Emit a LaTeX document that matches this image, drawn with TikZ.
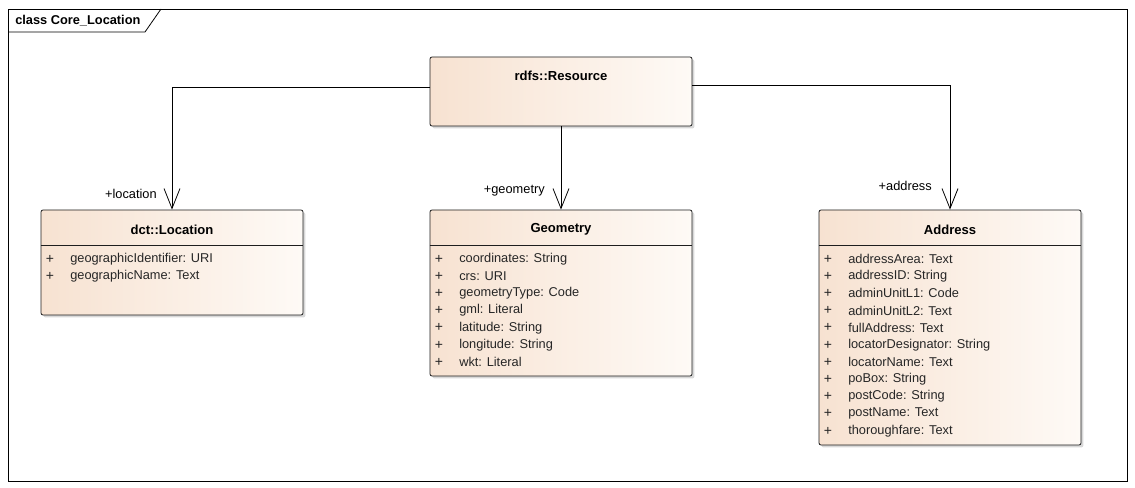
\documentclass[tikz,border=0pt]{standalone}
\usepackage{fontspec}
\setmainfont{Liberation Sans}
\usetikzlibrary{arrows.meta,fit,shadows,calc}
\definecolor{peach}{RGB}{247,226,209}
\definecolor{peachlight}{RGB}{254,250,246}
\definecolor{gridline}{RGB}{30,30,30}
\tikzset{
  classbox/.style={draw=gridline, line width=0.6pt, rounded corners=1.5pt, inner sep=0pt,
    left color=peach, right color=peachlight, shading angle=90,
    drop shadow={shadow xshift=1.8pt, shadow yshift=-1.8pt, opacity=0.25, fill=black!60}},
  classtitle/.style={font=\fontsize{9.8pt}{11pt}\selectfont\bfseries, inner sep=0pt},
  attr/.style={font=\fontsize{9.6pt}{11pt}\selectfont, anchor=west, inner sep=0pt, text=black!85},
  vis/.style={font=\fontsize{10.5pt}{11pt}\selectfont, inner sep=0pt, text=black!85},
  rolelabel/.style={font=\fontsize{9.6pt}{11pt}\selectfont, anchor=east, inner sep=0pt},
  assoc/.style={draw=black, line width=0.6pt, -{Straight Barb[length=15pt,width=12pt,line width=0.6pt]}},
  divider/.style={draw=gridline, line width=0.6pt},
}
\begin{document}
\begin{tikzpicture}[x=0.75pt,y=-0.75pt]
\useasboundingbox[fill=white] (0,0) rectangle (1135,488);
% frame
\node[draw=black, line width=0.6pt, inner sep=0pt, fit={(8,9) (1127,481)}] (frame) {};
\coordinate (tabA) at (8,32);
\coordinate (tabB) at (145,32);
\coordinate (tabC) at (161,9);
\draw[line width=0.6pt] (tabA) -- (tabB) -- (tabC);
\node[font=\fontsize{9.6pt}{11pt}\selectfont\bfseries, anchor=west, inner sep=0pt] (frametitle) at (15,20.5) {class Core\_Location};

% boxes
\node[classbox, fit={(430,57) (692,126)}] (res) {};
\node[classbox, fit={(41,210) (303,315)}] (loc) {};
\node[classbox, fit={(430,210) (692,376)}] (geo) {};
\node[classbox, fit={(819,210) (1081,445)}] (adr) {};

% titles
\node[classtitle] (rest) at (561,76) {rdfs::Resource};
\node[classtitle] (loct) at (172,229.5) {dct::Location};
\node[classtitle] (geot) at (561,229.5) {Geometry};
\node[classtitle] (adrt) at (950,229.5) {Address};

% dividers
\draw[divider] (loc.west |- 0,245) -- (loc.east |- 0,245);
\draw[divider] (geo.west |- 0,245) -- (geo.east |- 0,245);
\draw[divider] (adr.west |- 0,245) -- (adr.east |- 0,245);

% attributes: Location
\foreach \t [count=\i] in {geographicIdentifier: URI, geographicName: Text}{
  \node[vis] (locv\i) at (50,{259+17.2*(\i-1)}) {+};
  \node[attr] (loca\i) at (70,{259+17.2*(\i-1)}) {\t};
}
% attributes: Geometry
\foreach \t [count=\i] in {coordinates: String, crs: URI, geometryType: Code, gml: Literal, latitude: String, longitude: String, wkt: Literal}{
  \node[vis] (geov\i) at (439,{259+17.2*(\i-1)}) {+};
  \node[attr] (geoa\i) at (459,{259+17.2*(\i-1)}) {\t};
}
% attributes: Address
\foreach \t [count=\i] in {addressArea: Text, addressID: String, adminUnitL1: Code, adminUnitL2: Text, fullAddress: Text, locatorDesignator: String, locatorName: Text, poBox: String, postCode: String, postName: Text, thoroughfare: Text}{
  \node[vis] (adrv\i) at (828,{259+17.2*(\i-1)}) {+};
  \node[attr] (adra\i) at (848,{259+17.2*(\i-1)}) {\t};
}

% connectors
\coordinate (resL) at (430,87);
\coordinate (resR) at (692,85);
\draw[assoc] (resL) -| (loc.north);
\draw[assoc] (res.south) -- (geo.north);
\draw[assoc] (resR) -| (adr.north);

% role labels
\node[rolelabel] (locrole) at (157,194) {+location};
\node[rolelabel] (georole) at (545,190.5) {+geometry};
\node[rolelabel] (adrrole) at (932,186) {+address};
\end{tikzpicture}
\end{document}
